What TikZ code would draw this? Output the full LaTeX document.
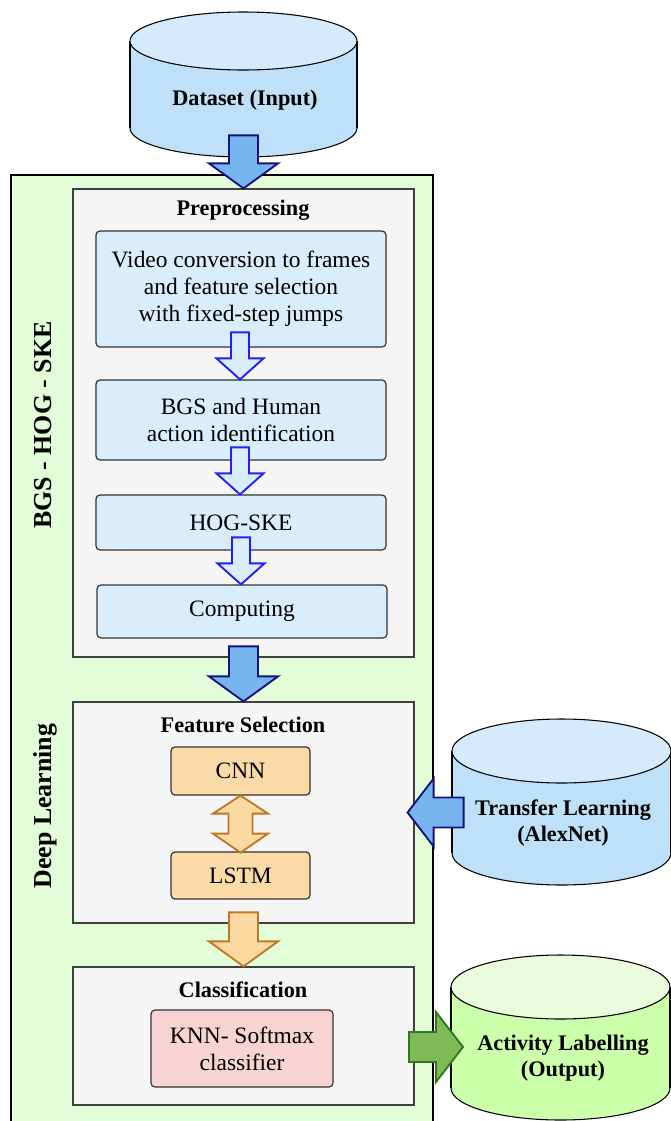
\documentclass[tikz,border=0pt]{standalone}
\usepackage{fontspec}
\setmainfont{Liberation Serif}
\usetikzlibrary{fit}

\definecolor{dlgreen}{HTML}{E3FDD9}
\definecolor{stagegray}{HTML}{F5F5F5}
\definecolor{stepblue}{HTML}{DAEDFC}
\definecolor{cnnorange}{HTML}{FADBA7}
\definecolor{knnpink}{HTML}{F8D3D3}
\definecolor{bigblue}{HTML}{78B4F0}
\definecolor{navyline}{HTML}{12127A}
\definecolor{thinblue}{HTML}{1E1EFF}
\definecolor{arroworange}{HTML}{FDD9A2}
\definecolor{orangeline}{HTML}{BC7A26}
\definecolor{arrowgreen}{HTML}{80BA58}
\definecolor{greenline}{HTML}{2E7A17}
\definecolor{cylblue}{HTML}{BEE0F8}
\definecolor{cylbluetop}{HTML}{D5EBFB}
\definecolor{cylgreen}{HTML}{CCFFAA}
\definecolor{cylgreentop}{HTML}{EBFCDD}

\tikzset{
  every node/.style={inner sep=0pt, font=\fontsize{17.6}{20.3}\selectfont},
  outerbox/.style={draw=black, line width=1.1pt, fill=dlgreen},
  stagebox/.style={draw=black!75, line width=0.9pt, fill=stagegray},
  stepbox/.style={draw=black!80, line width=0.9pt, fill=stepblue, rounded corners=3pt,
    align=center, minimum width=217.5pt},
  cnnbox/.style={stepbox, fill=cnnorange, minimum width=104.25pt},
  knnbox/.style={stepbox, fill=knnpink, minimum width=136.5pt},
  titletext/.style={font=\fontsize{16.7}{19}\selectfont\bfseries},
  dbtext/.style={font=\fontsize{16.7}{19}\selectfont\bfseries, align=center},
  sidetext/.style={font=\fontsize{19.4}{22}\selectfont\bfseries, rotate=90},
  cylline/.style={draw=black, line width=0.8pt},
  bigarrow/.style={fill=bigblue, draw=navyline, line width=1.4pt, line join=miter},
  smallarrow/.style={fill=stepblue, draw=thinblue, line width=1.4pt, line join=miter},
  orangearrow/.style={fill=arroworange, draw=orangeline, line width=1.4pt, line join=miter},
  greenarrow/.style={fill=arrowgreen, draw=greenline, line width=1.4pt, line join=miter}
}

% block arrow: [style]{tip}{angle}{length}{shaft half}{head half}{head length}
\newcommand{\blkarrow}[7][]{%
  \begin{scope}[shift={#2}, rotate=#3]
    \draw[#1] (0,0) -- (-#7,#6) -- (-#7,#5) -- (-#4,#5) -- (-#4,-#5)
      -- (-#7,-#5) -- (-#7,-#6) -- cycle;
  \end{scope}}

% database cylinder: {cx}{rx}{top y}{bottom y}{ry}{body}{top}
\newcommand{\dbcyl}[7]{%
  \filldraw[fill=#6, cylline] (#1,#4) ellipse [x radius=#2, y radius=#5];
  \fill[#6] (#1-#2,#3) rectangle (#1+#2,#4);
  \draw[cylline] (#1-#2,#3) -- (#1-#2,#4) (#1+#2,#3) -- (#1+#2,#4);
  \filldraw[fill=#7, cylline] (#1,#3) ellipse [x radius=#2, y radius=#5];}

\begin{document}
\begin{tikzpicture}[x=0.75pt, y=-0.75pt]
\useasboundingbox (0,0) rectangle (671,1121);

\node[outerbox, fit={(11,175) (433,1140)}] (dl) {};
\node[sidetext] (bgslabel) at (43,425) {BGS - HOG - SKE};
\node[sidetext] (dllabel) at (45,806) {Deep Learning};

% input
\dbcyl{243.5}{113.5}{41}{128}{29}{cylblue}{cylbluetop}
\node[dbtext] (data) at (245,100) {Dataset (Input)};

% preprocessing
\node[stagebox, fit={(73,189) (414,657)}] (pre) {};
\node[titletext] (pretitle) at (243,210) {Preprocessing};
\node[stepbox, minimum height=87pt] (video) at (241,289)
  {Video conversion to frames\\and feature selection\\with fixed-step jumps};
\node[stepbox, minimum height=60pt] (bgs) at (241,420) {BGS and Human\\action identification};
\node[stepbox, minimum height=41.25pt] (hog) at (241,522.5) {HOG-SKE};
\node[stepbox, minimum height=39.75pt] (comp) at (242,611.5) {Computing};
\blkarrow[bigarrow]{(pre.north)}{-90}{53}{14.5}{34.5}{25}
\foreach \n in {bgs,hog,comp}
  \blkarrow[smallarrow]{([xshift=-0.75pt]\n.north)}{-90}{47}{9}{23.5}{21};

% feature selection
\node[stagebox, fit={(73,702) (414,923)}] (feat) {};
\node[titletext] (feattitle) at (243,725) {Feature Selection};
\node[cnnbox, minimum height=36pt] (cnn) at (240.5,771) {CNN};
\node[cnnbox, minimum height=35.25pt] (lstm) at (240.5,875.5) {LSTM};
\blkarrow[bigarrow]{(feat.north)}{-90}{55}{14.5}{34.5}{25}
\begin{scope}[shift={(cnn.south)}, rotate=-90]
  \draw[orangearrow] (0,0) -- (18,27.5) -- (18,12) -- (38,12) -- (38,27.5) -- (57,0)
    -- (38,-27.5) -- (38,-12) -- (18,-12) -- (18,-27.5) -- cycle;
\end{scope}

% transfer learning
\dbcyl{561.5}{109.5}{751}{853}{32}{cylblue}{cylbluetop}
\node[dbtext] (alex) at (563,823) {Transfer Learning\\(AlexNet)};
\blkarrow[bigarrow]{([xshift=-7*0.75pt]feat.east)}{180}{56}{15}{34}{26}

% classification
\node[stagebox, fit={(73,967) (414,1105)}] (cls) {};
\node[titletext] (clstitle) at (243,990) {Classification};
\node[knnbox, minimum height=57.75pt] (knn) at (242,1048.5) {KNN- Softmax\\classifier};
\blkarrow[orangearrow]{(cls.north)}{-90}{54}{14.5}{34.5}{25}

% output
\dbcyl{560.5}{109.5}{987}{1088}{32}{cylgreen}{cylgreentop}
\node[dbtext] (act) at (563,1058) {Activity Labelling\\(Output)};
\coordinate (actin) at (463,1047);
\blkarrow[greenarrow]{(actin)}{0}{54}{15}{35}{27}

\end{tikzpicture}
\end{document}
